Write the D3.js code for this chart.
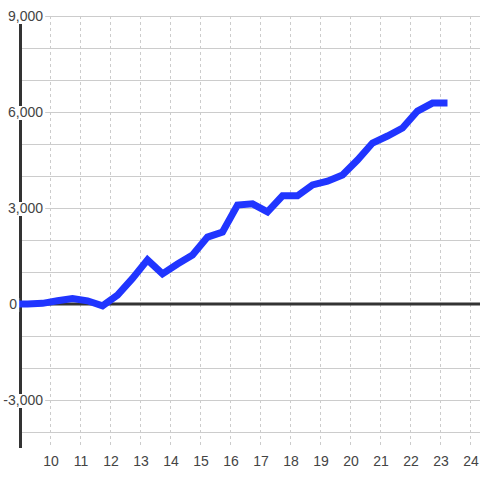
<!DOCTYPE html>
<html>
<head>
<meta charset="utf-8">
<script src="https://cdn.jsdelivr.net/npm/d3@7"></script>
<style>
html,body{margin:0;padding:0;background:#fff;}
svg{display:block;font-family:"Liberation Sans",Arial,sans-serif;}
</style>
</head>
<body>
<svg id="chart" width="480" height="480"></svg>
<script>
const xValues = [8.75,9.25,9.75,10.25,10.75,11.25,11.75,12.25,12.75,13.25,13.75,14.25,14.75,15.25,15.75,16.25,16.75,17.25,17.75,18.25,18.75,19.25,19.75,20.25,20.75,21.25,21.75,22.25,22.75,23.25];
const yValues = [0,0,20,100,170,100,-60,280,800,1380,940,1250,1530,2090,2250,3090,3130,2880,3380,3380,3720,3840,4030,4500,5030,5250,5500,6030,6280,6280];
const xTicks = [10,11,12,13,14,15,16,17,18,19,20,21,22,23,24];
const yTicks = [-4000,-3000,-2000,-1000,0,1000,2000,3000,4000,5000,6000,7000,8000,9000];
const yLabelTicks = [-3000,0,3000,6000,9000];

const svg = d3.select("#chart");
const x = d3.scaleLinear().domain([9, 24 + 1/3]).range([20, 480]);
const y = d3.scaleLinear().domain([-4500, 9000]).range([448, 16]);
const fmt = d3.format(",");

// horizontal grid
svg.append("g").selectAll("line").data(yTicks).join("line")
  .attr("x1", 20).attr("x2", 480)
  .attr("y1", d => y(d) + 0.5).attr("y2", d => y(d) + 0.5)
  .attr("stroke", "#cccccc").attr("stroke-width", 1);

// vertical grid dashed
svg.append("g").selectAll("line").data(xTicks).join("line")
  .attr("x1", d => x(d) + 0.5).attr("x2", d => x(d) + 0.5)
  .attr("y1", y(9000)).attr("y2", 448)
  .attr("stroke", "#cccccc").attr("stroke-width", 1)
  .attr("stroke-dasharray", "3,3");

// zero line
svg.append("line")
  .attr("x1", 20).attr("x2", 480)
  .attr("y1", y(0)).attr("y2", y(0))
  .attr("stroke", "#333333").attr("stroke-width", 3);

// y axis line
svg.append("line")
  .attr("x1", 20.5).attr("x2", 20.5)
  .attr("y1", y(9000)).attr("y2", 448)
  .attr("stroke", "#333333").attr("stroke-width", 3);

// data line
const line = d3.line().x((d, i) => x(xValues[i])).y(d => y(d));
svg.append("path")
  .datum(yValues)
  .attr("d", line)
  .attr("fill", "none")
  .attr("stroke", "#2035ff")
  .attr("stroke-width", 7)
  .attr("stroke-linejoin", "miter");

// y labels with white background
const yl = svg.append("g");
yLabelTicks.forEach(t => {
  const endX = t === 0 ? 17 : 43;
  const txt = yl.append("text")
    .attr("x", endX).attr("y", y(t) + 5)
    .attr("text-anchor", "end")
    .attr("font-size", 14)
    .attr("fill", "#444444")
    .text(fmt(t).replace("−", "-"));
  const bb = txt.node().getBBox();
  yl.insert("rect", "text")
    .attr("x", bb.x - 1).attr("y", y(t) - 6)
    .attr("width", bb.width + 3).attr("height", 14)
    .attr("fill", "#ffffff");
});

// x labels
svg.append("g").selectAll("text").data(xTicks).join("text")
  .attr("x", d => x(d) + 1).attr("y", 466)
  .attr("text-anchor", "middle")
  .attr("font-size", 14)
  .attr("fill", "#444444")
  .text(d => d);
</script>
</body>
</html>
